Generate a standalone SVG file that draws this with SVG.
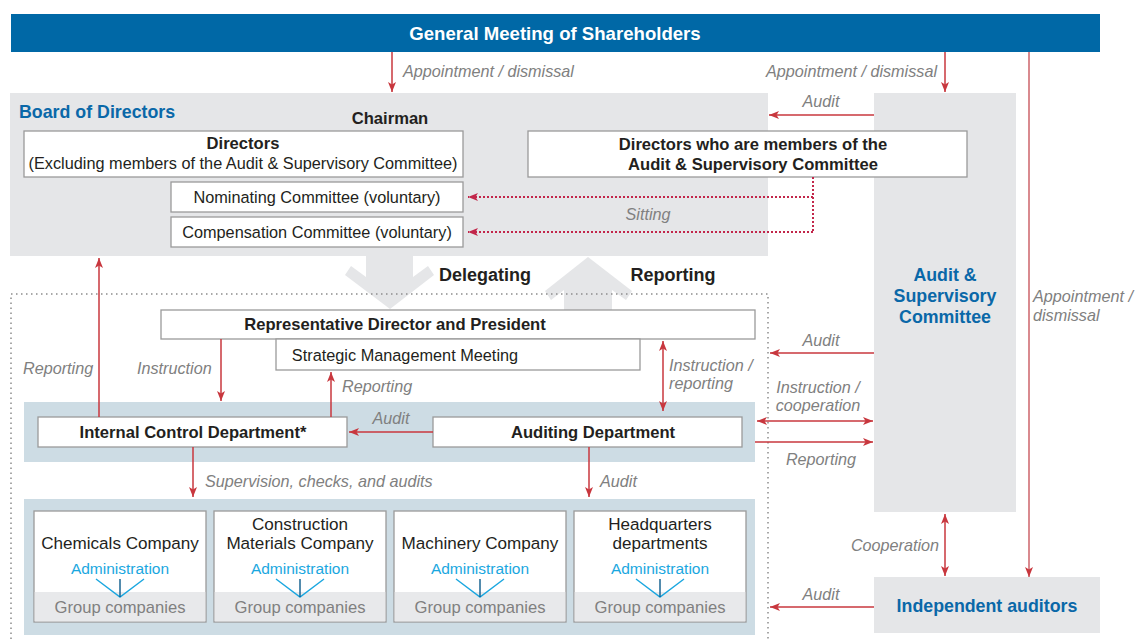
<svg xmlns="http://www.w3.org/2000/svg" width="1136" height="639" viewBox="0 0 1136 639">
<style>
text{font-family:"Liberation Sans",Arial,sans-serif}
.box{fill:#fff;stroke:#9a9a9a;stroke-width:1.3}
.gray{fill:#e5e6e8}
.band{fill:#cddce4}
.b{font-weight:bold;font-size:16.6px;fill:#231f20}
.r{font-size:16.3px;fill:#231f20}
.co{font-size:17.1px;fill:#231f20}
.lbl{font-style:italic;font-size:16.2px;fill:#808080}
.blue{font-weight:bold;font-size:17.8px;fill:#0a68a8}
.adm{font-size:15.5px;fill:#1aa7e0}
.grp{font-size:16.6px;fill:#808080}
.big{font-weight:bold;font-size:18px;fill:#231f20}
.ar{stroke:#c8373e;stroke-width:1.5;fill:none}
.dot{stroke:#c2264a;stroke-width:2;stroke-dasharray:2,2;fill:none}
.gdot{stroke:#8c8c8c;stroke-width:1.5;stroke-dasharray:1.5,3.5;fill:none}
.mid{text-anchor:middle}
</style>
<defs>
<marker id="ah" viewBox="0 0 10 8" refX="10" refY="4" markerWidth="10" markerHeight="8" orient="auto-start-reverse" markerUnits="userSpaceOnUse"><path d="M0,0 L10,4 L0,8 L2.5,4 z" fill="#c8373e"/></marker>
<marker id="ahp" viewBox="0 0 10 8" refX="10" refY="4" markerWidth="10" markerHeight="8" orient="auto-start-reverse" markerUnits="userSpaceOnUse"><path d="M0,0 L10,4 L0,8 L2.5,4 z" fill="#c2264a"/></marker>
<g id="adminV"><path d="M-24,0 L0,18 L24,0" stroke="#1aa7e0" stroke-width="1.4" fill="none"/><path d="M0,0 V18" stroke="#0a5a8a" stroke-width="1.4"/></g>
</defs>

<g id="shareholders">
<rect x="11" y="14" width="1089" height="38" fill="#0068a6"/>
<text x="555" y="40" class="mid" style="font-weight:bold;font-size:18.6px;fill:#fff">General Meeting of Shareholders</text>
</g>

<g id="asc">
<rect x="874" y="93" width="142" height="419" class="gray"/>
<text x="945" y="281" class="blue mid">Audit &amp;</text>
<text x="945" y="302" class="blue mid">Supervisory</text>
<text x="945" y="323" class="blue mid">Committee</text>
</g>

<g id="board">
<rect x="10" y="93" width="758" height="163" class="gray"/>
<text x="19" y="118" class="blue">Board of Directors</text>
<text x="390" y="124" class="b mid">Chairman</text>
</g>

<g id="directors">
<rect x="24" y="131" width="439" height="46" class="box"/>
<text x="243" y="149" class="b mid">Directors</text>
<text x="243" y="169" class="r mid">(Excluding members of the Audit &amp; Supervisory Committee)</text>
</g>

<g id="directors-asc">
<rect x="528" y="131" width="439" height="46" class="box"/>
<text x="753" y="150" class="b mid">Directors who are members of the</text>
<text x="753" y="170" class="b mid">Audit &amp; Supervisory Committee</text>
</g>

<g id="nominating">
<rect x="171" y="182" width="292" height="30" class="box"/>
<text x="317" y="203" class="r mid">Nominating Committee (voluntary)</text>
</g>
<g id="compensation">
<rect x="171" y="217" width="292" height="30" class="box"/>
<text x="317" y="238" class="r mid">Compensation Committee (voluntary)</text>
</g>

<g id="independent-auditors">
<rect x="874" y="577" width="226" height="56" class="gray"/>
<text x="987" y="612" class="blue mid">Independent auditors</text>
</g>

<g id="big-arrows">
<polygon points="366,256 413,256 413,277 428,266 434,275 390,309 345,275 351,266 366,277" fill="#e5e6e8"/>
<polygon points="588,257 632,291 626,300 612,290 612,310 564,310 564,290 551,300 545,291" fill="#e5e6e8"/>
<text x="485" y="281" class="big mid">Delegating</text>
<text x="673" y="281" class="big mid">Reporting</text>
</g>

<g id="execution-area">
<path d="M11,639 V294 H768 V639" class="gdot"/>
</g>

<g id="president">
<rect x="161" y="310" width="594" height="29" class="box"/>
<text x="395" y="330" class="b mid">Representative Director and President</text>
</g>
<g id="strategic">
<rect x="276" y="339" width="364" height="31" class="box"/>
<text x="405" y="361" class="r mid">Strategic Management Meeting</text>
</g>

<g id="band1"><rect x="24" y="402" width="731" height="60" class="band"/></g>
<g id="internal-control">
<rect x="38" y="417" width="309" height="30" class="box"/>
<text x="193" y="438" class="b mid">Internal Control Department*</text>
</g>
<g id="auditing">
<rect x="433" y="417" width="309" height="30" class="box"/>
<text x="593" y="438" class="b mid">Auditing Department</text>
</g>

<g id="band2"><rect x="24" y="499" width="731" height="136" class="band"/></g>

<g id="chemicals">
<rect x="34" y="511" width="172" height="111" class="box"/>
<rect x="34.7" y="592" width="170.6" height="29.3" fill="#e8e9eb"/>
<text x="120" y="549" class="co mid">Chemicals Company</text>
<text x="120" y="574" class="adm mid">Administration</text>
<use href="#adminV" x="120" y="579"/>
<text x="120" y="613" class="grp mid">Group companies</text>
</g>
<g id="construction">
<rect x="214" y="511" width="172" height="111" class="box"/>
<rect x="214.7" y="592" width="170.6" height="29.3" fill="#e8e9eb"/>
<text x="300" y="530" class="co mid">Construction</text>
<text x="300" y="549" class="co mid">Materials Company</text>
<text x="300" y="574" class="adm mid">Administration</text>
<use href="#adminV" x="300" y="579"/>
<text x="300" y="613" class="grp mid">Group companies</text>
</g>
<g id="machinery">
<rect x="394" y="511" width="172" height="111" class="box"/>
<rect x="394.7" y="592" width="170.6" height="29.3" fill="#e8e9eb"/>
<text x="480" y="549" class="co mid">Machinery Company</text>
<text x="480" y="574" class="adm mid">Administration</text>
<use href="#adminV" x="480" y="579"/>
<text x="480" y="613" class="grp mid">Group companies</text>
</g>
<g id="headquarters">
<rect x="574" y="511" width="172" height="111" class="box"/>
<rect x="574.7" y="592" width="170.6" height="29.3" fill="#e8e9eb"/>
<text x="660" y="530" class="co mid">Headquarters</text>
<text x="660" y="549" class="co mid">departments</text>
<text x="660" y="574" class="adm mid">Administration</text>
<use href="#adminV" x="660" y="579"/>
<text x="660" y="613" class="grp mid">Group companies</text>
</g>

<g id="connectors">
<line x1="392" y1="52" x2="392" y2="92" class="ar" marker-end="url(#ah)"/>
<text x="403" y="77" class="lbl">Appointment / dismissal</text>
<line x1="945" y1="52" x2="945" y2="92" class="ar" marker-end="url(#ah)"/>
<text x="937" y="77" class="lbl" text-anchor="end">Appointment / dismissal</text>
<line x1="874" y1="115" x2="769" y2="115" class="ar" marker-end="url(#ah)"/>
<text x="821" y="107" class="lbl mid">Audit</text>
<line x1="1029" y1="52" x2="1029" y2="577" style="stroke:#d98a8f;stroke-width:2" marker-end="url(#ah)"/>
<text x="1033" y="302" class="lbl">Appointment /</text>
<text x="1033" y="321" class="lbl">dismissal</text>

<path d="M813,177 V232" class="dot"/>
<line x1="813" y1="197" x2="468" y2="197" class="dot" marker-end="url(#ahp)"/>
<line x1="813" y1="232" x2="468" y2="232" class="dot" marker-end="url(#ahp)"/>
<text x="648" y="220" class="lbl mid">Sitting</text>

<line x1="99" y1="417" x2="99" y2="258" class="ar" marker-end="url(#ah)"/>
<text x="23" y="374" class="lbl">Reporting</text>
<line x1="221" y1="339" x2="221" y2="401" class="ar" marker-end="url(#ah)"/>
<text x="137" y="374" class="lbl">Instruction</text>
<line x1="331" y1="417" x2="331" y2="372" class="ar" marker-end="url(#ah)"/>
<text x="342" y="392" class="lbl">Reporting</text>
<line x1="663" y1="341" x2="663" y2="411" class="ar" marker-start="url(#ah)" marker-end="url(#ah)"/>
<text x="669" y="371" class="lbl">Instruction /</text>
<text x="669" y="389" class="lbl">reporting</text>
<line x1="433" y1="432" x2="349" y2="432" class="ar" marker-end="url(#ah)"/>
<text x="391" y="424" class="lbl mid">Audit</text>
<line x1="193" y1="447" x2="193" y2="497" class="ar" marker-end="url(#ah)"/>
<text x="205" y="487" class="lbl">Supervision, checks, and audits</text>
<line x1="589" y1="447" x2="589" y2="497" class="ar" marker-end="url(#ah)"/>
<text x="600" y="487" class="lbl">Audit</text>

<line x1="874" y1="353" x2="770" y2="353" class="ar" marker-end="url(#ah)"/>
<text x="821" y="346" class="lbl mid">Audit</text>
<line x1="757" y1="421" x2="873" y2="421" class="ar" marker-start="url(#ah)" marker-end="url(#ah)"/>
<text x="818" y="393" class="lbl mid">Instruction /</text>
<text x="818" y="411" class="lbl mid">cooperation</text>
<line x1="755" y1="442" x2="873" y2="442" class="ar" marker-end="url(#ah)"/>
<text x="821" y="465" class="lbl mid">Reporting</text>
<line x1="945" y1="514" x2="945" y2="576" class="ar" marker-start="url(#ah)" marker-end="url(#ah)"/>
<text x="895" y="551" class="lbl mid">Cooperation</text>
<line x1="874" y1="607" x2="770" y2="607" class="ar" marker-end="url(#ah)"/>
<text x="821" y="600" class="lbl mid">Audit</text>
</g>
</svg>
